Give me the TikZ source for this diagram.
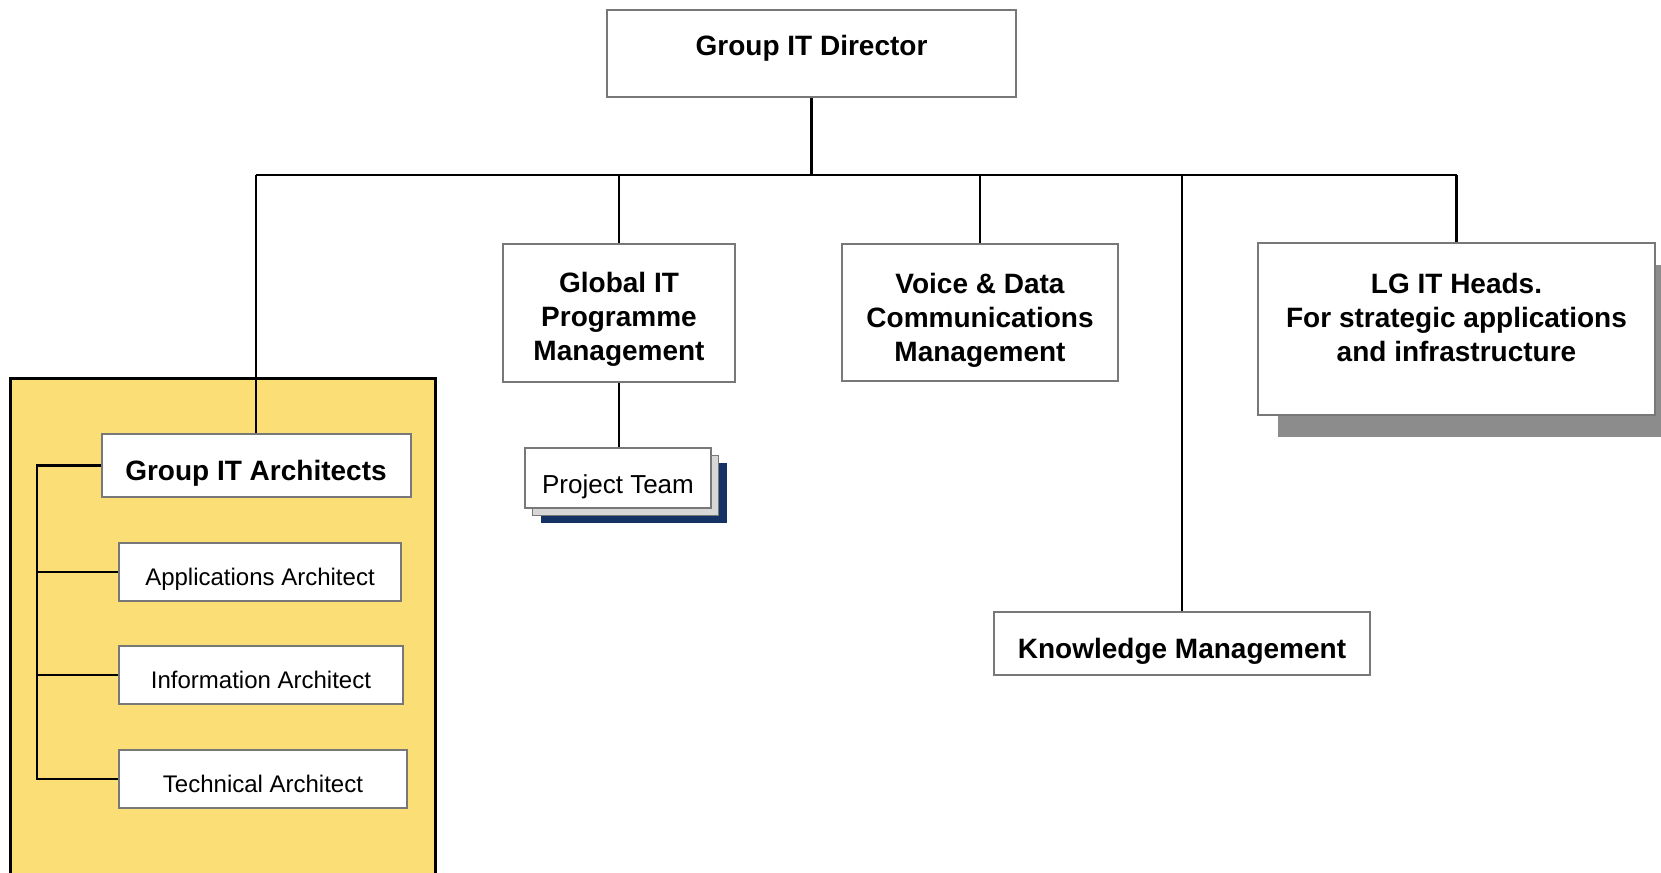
\documentclass[tikz,border=0pt]{standalone}
\usepackage{fontspec}
\setmainfont{Liberation Sans}
\usetikzlibrary{shadows}

\definecolor{panelyellow}{RGB}{251,222,118}
\definecolor{boxgray}{RGB}{120,120,120}
\definecolor{shadowgray}{RGB}{140,140,140}
\definecolor{teamnavy}{RGB}{20,50,100}
\definecolor{layergray}{RGB}{215,215,215}

\tikzset{
  unit/.style={draw=boxgray, line width=1pt, fill=white, align=center, inner sep=0pt,
    font=\fontsize{14}{17}\selectfont\bfseries},
  role/.style={draw=boxgray, line width=1pt, fill=white, inner sep=0pt,
    font=\fontsize{12}{14}\selectfont},
  low/.style={text height=#1, text depth=0pt},
  low/.default=1.5em,
  link/.style={line width=1.1pt}
}

\begin{document}
\begin{tikzpicture}[x=0.5pt, y=-0.5pt]
      \useasboundingbox (0, 0) rectangle (1661, 873);

      % Panneau des architectes
      \draw[line width=1.5pt, fill=panelyellow] (10, 378) rectangle (435, 890);
      \coordinate (bus) at (0, 175);
      \coordinate (rail) at (37, 0);

      % Boites
      \node[unit, minimum width=204.5pt, minimum height=43.5pt, text height=0.73em, text depth=0.5em]
        (director) at (811.5, 53.5) {Group IT Director};
      \node[unit, minimum width=116pt, minimum height=69pt] (gprog) at (619, 313)
        {\rule{0pt}{16.6pt}Global IT\\Programme\\Management};
      \node[unit, minimum width=138pt, minimum height=68.5pt] (voice) at (980, 312.5)
        {\rule{0pt}{17.6pt}Voice \& Data\\Communications\\Management};
      \node[unit, minimum width=198.5pt, minimum height=86pt,
        general shadow={fill=shadowgray, shadow xshift=10pt, shadow yshift=-11pt}] (lgit) at (1456.5, 329)
        {LG IT Heads.\\For strategic applications\\and infrastructure\\[-5pt]\mbox{}};
      \node[unit, low, minimum width=188pt, minimum height=31.5pt] (know) at (1182, 643.5) {Knowledge Management};
      \node[role, low, font=\fontsize{13}{15}\selectfont, minimum width=93pt, minimum height=30pt,
        general shadow={fill=teamnavy, shadow xshift=8pt, shadow yshift=-7.5pt},
        general shadow={fill=layergray, draw=boxgray, line width=0.8pt, shadow xshift=3.75pt, shadow yshift=-3.75pt}]
        (team) at (618, 478) {Project Team};
      \node[unit, low, minimum width=154.5pt, minimum height=31.5pt] (garch) at (256, 465.5) {Group IT Architects};
      \node[role, low=1.35em, minimum width=141pt, minimum height=29pt] (appl) at (260, 572) {Applications Architect};
      \node[role, low=1.35em, minimum width=142pt, minimum height=29pt] (info) at (261, 675) {Information Architect};
      \node[role, low=1.35em, minimum width=144pt, minimum height=29pt] (tech) at (263, 779) {Technical Architect};

      % Liaisons
      \draw[link] (director.south) -- (director.south |- bus);
      \draw[link] (garch.north |- bus) -- (lgit.north |- bus);
      \foreach \n in {garch, gprog, voice, know, lgit}
        \draw[link] (\n.north |- bus) -- (\n.north);
      \draw[link] (gprog.south) -- (gprog.south |- team.north);
      \draw[link] (garch.west) -- (garch.west -| rail) -- (tech.west -| rail) -- (tech.west);
      \foreach \n in {appl, info}
        \draw[link] (\n.west -| rail) -- (\n.west);
\end{tikzpicture}
\end{document}
